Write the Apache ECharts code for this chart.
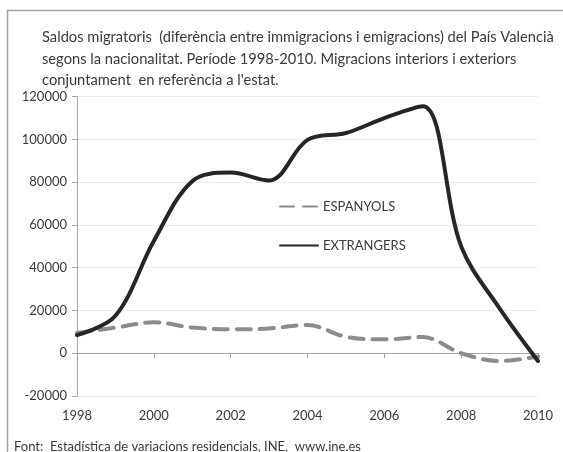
<!DOCTYPE html>
<html>
<head>
<meta charset="utf-8">
<script src="https://cdn.jsdelivr.net/npm/echarts@6/dist/echarts.min.js"></script>
<style>
  html, body { margin: 0; padding: 0; background: #fff; }
  #chart { width: 563px; height: 452px; }
</style>
</head>
<body>
<div id="chart"></div>
<script>
// anys (categories) i saldos migratoris
var years = ['1998', '1999', '2000', '2001', '2002', '2003', '2004', '2005', '2006', '2007', '2008', '2009', '2010']
var espanyols = [9500, 12000, 14500, 12000, 11200, 11600, 13200, 7700, 6500, 7600, 0, -3600, -1500]
var extrangers = [8500, 17500, 52500, 80500, 84500, 80800, 99800, 103000, 110000, 115500, 50000, 21000, -3600]
var yTicks = { min: -20000, max: 120000, step: 20000 }

var FONT = 'Lato'
var TXT = '#3a3a3a'

var myChart = echarts.init(document.getElementById('chart'))

function option() {
    return {
        animation: false,
        textStyle: { fontFamily: FONT },
        title: {
            text: 'Saldos migratoris  (diferència entre immigracions i emigracions) del País Valencià\n' +
                'segons la nacionalitat. Període 1998-2010. Migracions interiors i exteriors\n' +
                'conjuntament  en referència a l\'estat.',
            left: 37,
            top: 22,
            textStyle: { fontFamily: FONT, fontSize: 14.7, fontWeight: 'normal', color: TXT, lineHeight: 21.5 }
        },
        legend: {
            orient: 'vertical',
            left: 279,
            top: 200,
            padding: 0,
            itemWidth: 38,
            itemHeight: 14,
            itemGap: 26,
            itemStyle: { opacity: 0 },
            textStyle: { fontFamily: FONT, fontSize: 13, color: TXT },
            data: ['ESPANYOLS', 'EXTRANGERS']
        },
        grid: { left: 77, right: 25, top: 96.7, bottom: 56, containLabel: false },
        xAxis: [{
            type: 'category',
            data: years,
            boundaryGap: false,
            axisLine: { onZero: true, lineStyle: { color: '#a6a6a6', width: 1 } },
            axisTick: { interval: 1, length: 5, lineStyle: { color: '#a6a6a6' } },
            axisLabel: { show: false },
            splitLine: { show: false }
        }, {
            type: 'category',
            data: years,
            position: 'bottom',
            boundaryGap: false,
            axisLine: { show: false },
            axisTick: { show: false },
            axisLabel: { interval: 1, margin: 13, fontFamily: FONT, fontSize: 13, color: TXT },
            splitLine: { show: false }
        }],
        yAxis: {
            type: 'value',
            min: yTicks.min,
            max: yTicks.max,
            interval: yTicks.step,
            axisLine: { show: true, lineStyle: { color: '#a6a6a6' } },
            axisTick: { show: true, length: 5, lineStyle: { color: '#a6a6a6' } },
            axisLabel: { margin: 10, fontFamily: FONT, fontSize: 13, color: TXT, formatter: function(v) { return String(v) } },
            splitLine: { lineStyle: { color: '#ececec', width: 1 } }
        },
        series: [{
            name: 'ESPANYOLS',
            type: 'line',
            data: espanyols,
            smooth: 0.35,
            symbol: 'none',
            itemStyle: { color: '#8c8c8c' },
            lineStyle: { color: '#8c8c8c', width: 4, type: [14, 9], cap: 'round' },
            z: 2
        }, {
            name: 'EXTRANGERS',
            type: 'line',
            data: extrangers,
            smooth: 0.35,
            symbol: 'none',
            itemStyle: { color: '#262626' },
            lineStyle: { color: '#262626', width: 4, cap: 'round' },
            z: 3
        }],
        graphic: [{
            type: 'rect',
            silent: true,
            shape: { x: 7.5, y: 10.5, width: 600, height: 500 },
            style: { fill: 'none', stroke: '#a0a0a0', lineWidth: 1.5 }
        }, {
            type: 'text',
            left: 14,
            top: 440,
            style: { text: 'Font:  Estadística de variacions residencials, INE,  www.ine.es', font: '13px ' + FONT, fill: TXT }
        }]
    }
}

myChart.setOption(option())
</script>
</body>
</html>
